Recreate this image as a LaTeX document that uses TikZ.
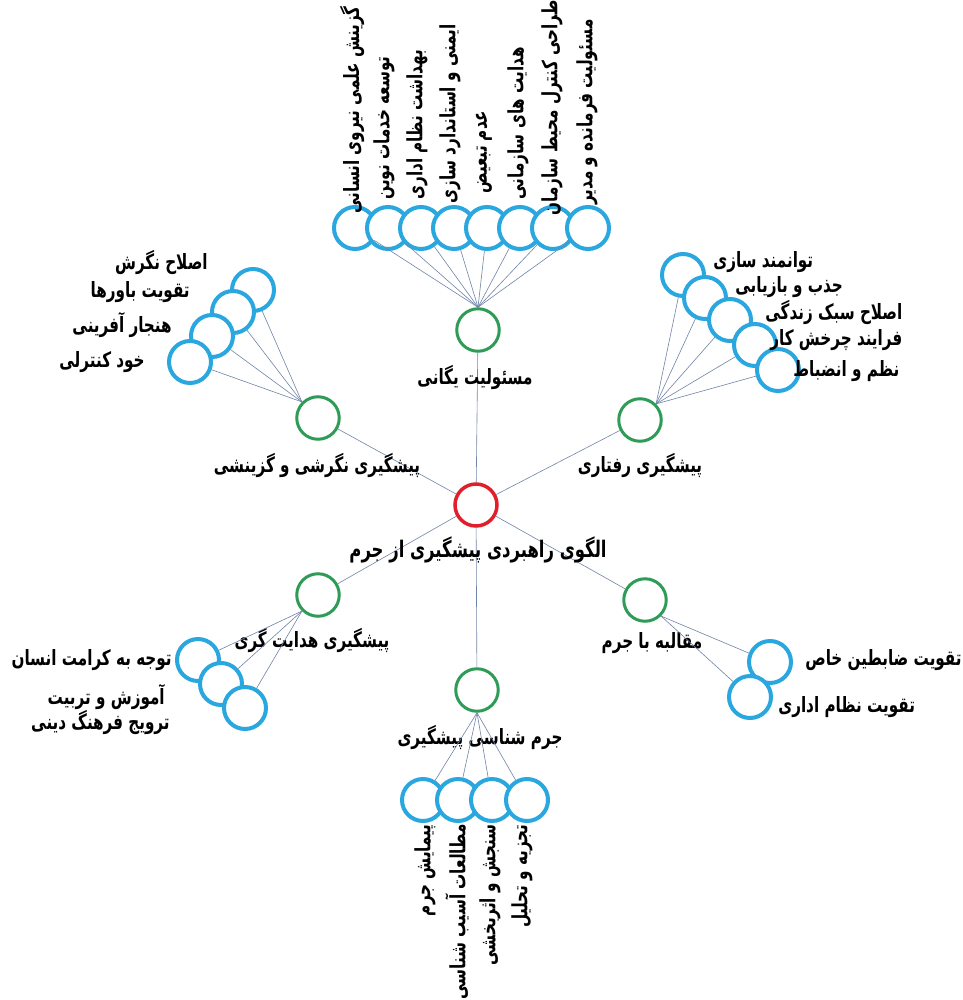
\documentclass[tikz,border=0pt]{standalone}
\usepackage{fontspec}
\newfontfamily\fa[Script=Arabic,FakeStretch=0.72]{DejaVu Sans}
\TeXXeTstate=1
\definecolor{rootred}{HTML}{E11F2B}
\definecolor{branchgreen}{HTML}{2E9B57}
\definecolor{leafblue}{HTML}{2AA7DF}
\definecolor{linkgrey}{HTML}{7185A8}

\begin{document}
\begin{tikzpicture}[x=0.2mm,y=-0.2mm,
		root/.style={circle,draw=rootred,line width=0.7mm,minimum size=8.4mm,inner sep=0pt,fill=white},
		branch/.style={circle,draw=branchgreen,line width=0.6mm,minimum size=8.5mm,inner sep=0pt,fill=white},
		leaf/.style={circle,draw=leafblue,line width=0.8mm,minimum size=8.4mm,inner sep=0pt,fill=white},
		link/.style={draw=linkgrey,line width=0.35pt},
		lbl/.style={inner sep=0pt,font=\fa\bfseries\fontsize{12}{14}\selectfont}]
	\useasboundingbox (0,0) rectangle (962,1000);

	% center and branches
	\node[root] (root) at (476,505) {};
	\node[branch] (mas) at (478,330) {};
	\node[branch] (neg) at (318,418) {};
	\node[branch] (raf) at (640,420) {};
	\node[branch] (hed) at (318,595) {};
	\node[branch] (moq) at (645,600) {};
	\node[branch] (jor) at (477,690) {};

	\draw[link] (root) -- (mas);
	\draw[link] (root) -- (neg);
	\draw[link] (root) -- (raf);
	\draw[link] (root) -- (hed);
	\draw[link] (root) -- (moq);
	\draw[link] (root) -- (jor);

	\node[lbl] (root-t) at (478,550) {\fontsize{13}{15}\selectfont\beginR الگوی راهبردی پیشگیری از جرم\endR};
	\node[lbl] (mas-t) at (475,377) {\beginR مسئولیت یگانی\endR};
	\node[lbl] (neg-t) at (317,465) {\beginR پیشگیری نگرشی و گزینشی\endR};
	\node[lbl] (raf-t) at (640,465) {\beginR پیشگیری رفتاری\endR};
	\node[lbl] (hed-t) at (312,640) {\beginR پیشگیری هدایت گری\endR};
	\node[lbl] (moq-t) at (652,643) {\beginR مقالبه با جرم\endR};
	\node[lbl] (jor-t) at (480,737) {\beginR جرم شناسی پیشگیری\endR};

	% top group
	\node[leaf] (mas1) at (355,228) {};
	\node[leaf] (mas2) at (388,228) {};
	\node[leaf] (mas3) at (421,228) {};
	\node[leaf] (mas4) at (454,228) {};
	\node[leaf] (mas5) at (487,228) {};
	\node[leaf] (mas6) at (520,228) {};
	\node[leaf] (mas7) at (553,228) {};
	\node[leaf] (mas8) at (588,228) {};

	\draw[link] (mas1) -- (mas.north);
	\draw[link] (mas2) -- (mas.north);
	\draw[link] (mas3) -- (mas.north);
	\draw[link] (mas4) -- (mas.north);
	\draw[link] (mas5) -- (mas.north);
	\draw[link] (mas6) -- (mas.north);
	\draw[link] (mas7) -- (mas.north);
	\draw[link] (mas8) -- (mas.north);

	\node[lbl,rotate=90,anchor=west] (mas1-t) at (352,214) {\beginR گزینش علمی نیروی انسانی\endR};
	\node[lbl,rotate=90,anchor=west] (mas2-t) at (384,200) {\beginR توسعه خدمات نوین\endR};
	\node[lbl,rotate=90,anchor=west] (mas3-t) at (417,200) {\beginR بهداشت نظام اداری\endR};
	\node[lbl,rotate=90,anchor=west] (mas4-t) at (450,204) {\beginR ایمنی و استاندارد سازی\endR};
	\node[lbl,rotate=90,anchor=west] (mas5-t) at (484,194) {\beginR عدم تبعیض\endR};
	\node[lbl,rotate=90,anchor=west] (mas6-t) at (518,200) {\beginR هدایت های سازمانی\endR};
	\node[lbl,rotate=90,anchor=west] (mas7-t) at (552,216) {\beginR طراحی کنترل محیط سازمان\endR};
	\node[lbl,rotate=90,anchor=west] (mas8-t) at (587,205) {\beginR مسئولیت فرمانده و مدیر\endR};

	% upper left group
	\node[leaf] (neg1) at (253,290) {};
	\node[leaf] (neg2) at (233,312) {};
	\node[leaf] (neg3) at (212,336) {};
	\node[leaf] (neg4) at (190,362) {};

	\draw[link] (neg1) -- (neg.north west);
	\draw[link] (neg2) -- (neg.north west);
	\draw[link] (neg3) -- (neg.north west);
	\draw[link] (neg4) -- (neg.north west);

	\node[lbl,anchor=east] (neg1-t) at (208,262) {\beginR اصلاح نگرش\endR};
	\node[lbl,anchor=east] (neg2-t) at (190,292) {\beginR تقویت باورها\endR};
	\node[lbl,anchor=east] (neg3-t) at (172,325) {\beginR هنجار آفرینی\endR};
	\node[lbl,anchor=east] (neg4-t) at (145,362) {\beginR خود کنترلی\endR};

	% upper right group
	\node[leaf] (raf1) at (683,275) {};
	\node[leaf] (raf2) at (705,298) {};
	\node[leaf] (raf3) at (730,320) {};
	\node[leaf] (raf4) at (755,345) {};
	\node[leaf] (raf5) at (778,370) {};

	\draw[link] (raf1) -- (raf.north east);
	\draw[link] (raf2) -- (raf.north east);
	\draw[link] (raf3) -- (raf.north east);
	\draw[link] (raf4) -- (raf.north east);
	\draw[link] (raf5) -- (raf.north east);

	\node[lbl,anchor=west] (raf1-t) at (713,262) {\beginR توانمند سازی\endR};
	\node[lbl,anchor=west] (raf2-t) at (735,287) {\beginR جذب و بازیابی\endR};
	\node[lbl,anchor=west] (raf3-t) at (765,312) {\beginR اصلاح سبک زندگی\endR};
	\node[lbl,anchor=west] (raf4-t) at (770,340) {\beginR فرایند چرخش کار\endR};
	\node[lbl,anchor=west] (raf5-t) at (793,371) {\beginR نظم و انضباط\endR};

	% lower left group
	\node[leaf] (hed1) at (198,660) {};
	\node[leaf] (hed2) at (221,684) {};
	\node[leaf] (hed3) at (245,708) {};

	\draw[link] (hed1) -- (hed.south west);
	\draw[link] (hed2) -- (hed.south west);
	\draw[link] (hed3) -- (hed.south west);

	\node[lbl,anchor=east] (hed1-t) at (172,660) {\beginR توجه به کرامت انسان\endR};
	\node[lbl,anchor=east] (hed2-t) at (165,697) {\beginR آموزش و تربیت\endR};
	\node[lbl,anchor=east] (hed3-t) at (170,722) {\beginR ترویج فرهنگ دینی\endR};

	% lower right group
	\node[leaf] (moq1) at (770,662) {};
	\node[leaf] (moq2) at (750,697) {};

	\draw[link] (moq1) -- (moq.south east);
	\draw[link] (moq2) -- (moq.south east);

	\node[lbl,anchor=west] (moq1-t) at (805,660) {\beginR تقویت ضابطین خاص\endR};
	\node[lbl,anchor=west] (moq2-t) at (778,707) {\beginR تقویت نظام اداری\endR};

	% bottom group
	\node[leaf] (jor1) at (423,800) {};
	\node[leaf] (jor2) at (458,800) {};
	\node[leaf] (jor3) at (492,800) {};
	\node[leaf] (jor4) at (527,800) {};

	\draw[link] (jor1) -- (jor.south);
	\draw[link] (jor2) -- (jor.south);
	\draw[link] (jor3) -- (jor.south);
	\draw[link] (jor4) -- (jor.south);

	\node[lbl,rotate=90,anchor=east] (jor1-t) at (425,824) {\beginR پیمایش جرم\endR};
	\node[lbl,rotate=90,anchor=east] (jor2-t) at (457,824) {\beginR مطالعات آسیب شناسی\endR};
	\node[lbl,rotate=90,anchor=east] (jor3-t) at (490,824) {\beginR سنجش و اثربخشی\endR};
	\node[lbl,rotate=90,anchor=east] (jor4-t) at (522,824) {\beginR تجزیه و تحلیل\endR};
\end{tikzpicture}
\end{document}
